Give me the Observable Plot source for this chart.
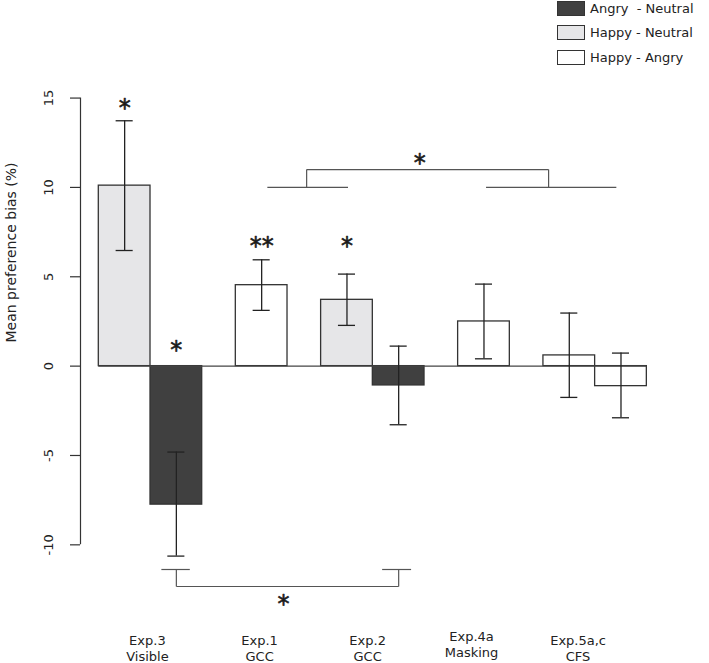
<!DOCTYPE html>
<html><head><meta charset="utf-8">
<script src="https://cdn.jsdelivr.net/npm/d3@7"></script>
<script src="https://cdn.jsdelivr.net/npm/@observablehq/plot@0.6"></script>
<style>
body{margin:0;background:#fff;font-family:"DejaVu Sans",sans-serif;}
#wrap{position:relative;width:709px;height:663px;}
#legend{position:absolute;left:557px;top:-3.6px;}
.row{display:flex;align-items:center;height:24.3px;font-size:13px;color:#222;white-space:pre;}
.sw{width:28px;height:15px;border:1.3px solid #333;margin-right:5px;box-sizing:border-box;}
svg{display:block;}
g[aria-label="y-label"] text{word-spacing:3px;}
</style></head><body><div id="wrap"><div id="chart"></div><div id="legend"></div></div>
<script>
// ---- data ----
const contrasts = ["Angry  - Neutral", "Happy - Neutral", "Happy - Angry"];
const contrastColors = ["#404040", "#e6e6e8", "#ffffff"];
const groupSizes = [2, 1, 2, 1, 2];
const groupLabels = ["Exp.3\nVisible", "Exp.1\nGCC", "Exp.2\nGCC", "Exp.4a\nMasking", "Exp.5a,c\nCFS"];
const groupLabelX = [0.94, 3.11, 5.2, 7.21, 9.27];
const groupLabelY = [-15.75, -15.75, -15.75, -15.55, -15.78];
const barContrast = [1, 0, 2, 1, 0, 2, 2, 2];
const barValues = [10.1, -7.75, 4.53, 3.71, -1.08, 2.5, 0.6, -1.12];
const errHigh = [13.73, -4.81, 5.95, 5.15, 1.12, 4.59, 2.97, 0.73];
const errLow = [6.47, -10.63, 3.12, 2.28, -3.28, 0.41, -1.75, -2.89];
const yTicks = [-10, -5, 0, 5, 10, 15];
const yLabel = "Mean preference bias (%)";
const yLabelCenter = 6.36;
const starBars = [0, 1, 2, 3];
const starTexts = ["*", "*", "**", "*"];
const starY = [14.78, 1.21, 7.04, 7.04];
const bracketStarX = [6.21, 3.57];
const bracketStarY = [11.66, -13.0];
// bracket segments
const segX1 = [3.26, 4.02, 4.02, 8.70, 7.49, 1.21, 1.5, 1.5, 5.8, 5.48];
const segX2 = [4.82, 4.02, 8.70, 8.70, 10.01, 1.76, 1.5, 5.8, 5.8, 6.04];
const segY1 = [10, 10, 11, 11, 10, -11.38, -11.38, -12.33, -12.33, -11.38];
const segY2 = [10, 11, 11, 10, 10, -11.38, -12.33, -12.33, -11.38, -11.38];

// ---- layout from R-style barplot (width 1, space 0.65) ----
const space = 0.65;
const barStart = [];
let pos = 0;
groupSizes.forEach(n => { for (let i = 0; i < n; i++) barStart.push(pos + i); pos += n + space; });
const barsEnd = pos - space;
const capHalf = 0.165;

const bars = barValues.map((v, i) => ({
  x1: barStart[i], x2: barStart[i] + 1, cx: barStart[i] + 0.5, v,
  c: contrasts[barContrast[i]], lo: errLow[i], hi: errHigh[i]
}));
const stars = starBars.map((b, i) => ({x: barStart[b] + 0.5, y: starY[i], t: starTexts[i]}))
  .concat(bracketStarX.map((x, i) => ({x, y: bracketStarY[i], t: "*"})));
const segs = segX1.map((x, i) => ({x1: x, x2: segX2[i], y1: segY1[i], y2: segY2[i]}));
const labels = groupLabels.map((t, i) => ({t, x: groupLabelX[i], y: groupLabelY[i]}));

const xMin = -0.354, xMax = 11.812;

const chart = Plot.plot({
  width: 709, height: 663,
  marginLeft: 80, marginRight: 0, marginTop: 0, marginBottom: 0,
  style: {fontFamily: "DejaVu Sans", fontSize: "13px", color: "#222", background: "#fff"},
  x: {type: "linear", domain: [xMin, xMax], axis: null},
  y: {domain: [-16.64, 20.46]},
  color: {domain: contrasts, range: contrastColors},
  marks: [
    Plot.rect(bars, {x1: "x1", x2: "x2", y1: 0, y2: "v", fill: "c", stroke: "#333", strokeWidth: 1.3}),
    Plot.ruleY([0], {x1: 0, x2: barsEnd, stroke: "#444", strokeWidth: 1.2}),
    Plot.ruleX(bars, {x: "cx", y1: "lo", y2: "hi", stroke: "#222", strokeWidth: 1.3}),
    Plot.ruleY(bars, {y: "hi", x1: d => d.cx - capHalf, x2: d => d.cx + capHalf, stroke: "#222", strokeWidth: 1.3}),
    Plot.ruleY(bars, {y: "lo", x1: d => d.cx - capHalf, x2: d => d.cx + capHalf, stroke: "#222", strokeWidth: 1.3}),
    Plot.link(segs, {x1: "x1", x2: "x2", y1: "y1", y2: "y2", stroke: "#555", strokeWidth: 1.2}),
    Plot.text(stars, {x: "x", y: "y", text: "t", fontSize: 24, dy: 6, fill: "#1a1a1a", stroke: "#1a1a1a", strokeWidth: 0.6}),
    Plot.text(labels, {x: "x", y: "y", text: "t", fontSize: 13, lineHeight: 1.25, fill: "#222"}),
    Plot.ruleX([xMin], {y1: yTicks[0], y2: yTicks[yTicks.length - 1], stroke: "#333", strokeWidth: 1.2}),
    Plot.axisY(yTicks, {anchor: "left", tickSize: 10, tickPadding: 18, tickRotate: -90, fontSize: 13,
      tickFormat: d => String(d), stroke: "#333", strokeWidth: 1.2, fill: "#222", label: null}),
    Plot.text([yLabel], {frameAnchor: "left", y: yLabelCenter, text: d => d, rotate: -90, dx: -69,
      textAnchor: "middle", fontSize: 14, fill: "#222", ariaLabel: "y-label"})
  ]
});
document.getElementById("chart").appendChild(chart);

const legend = document.getElementById("legend");
contrasts.forEach((c, i) => {
  const row = document.createElement("div");
  row.className = "row";
  const sw = document.createElement("div");
  sw.className = "sw";
  sw.style.background = contrastColors[i];
  const t = document.createElement("span");
  t.textContent = c;
  row.appendChild(sw); row.appendChild(t);
  legend.appendChild(row);
});
</script></body></html>
